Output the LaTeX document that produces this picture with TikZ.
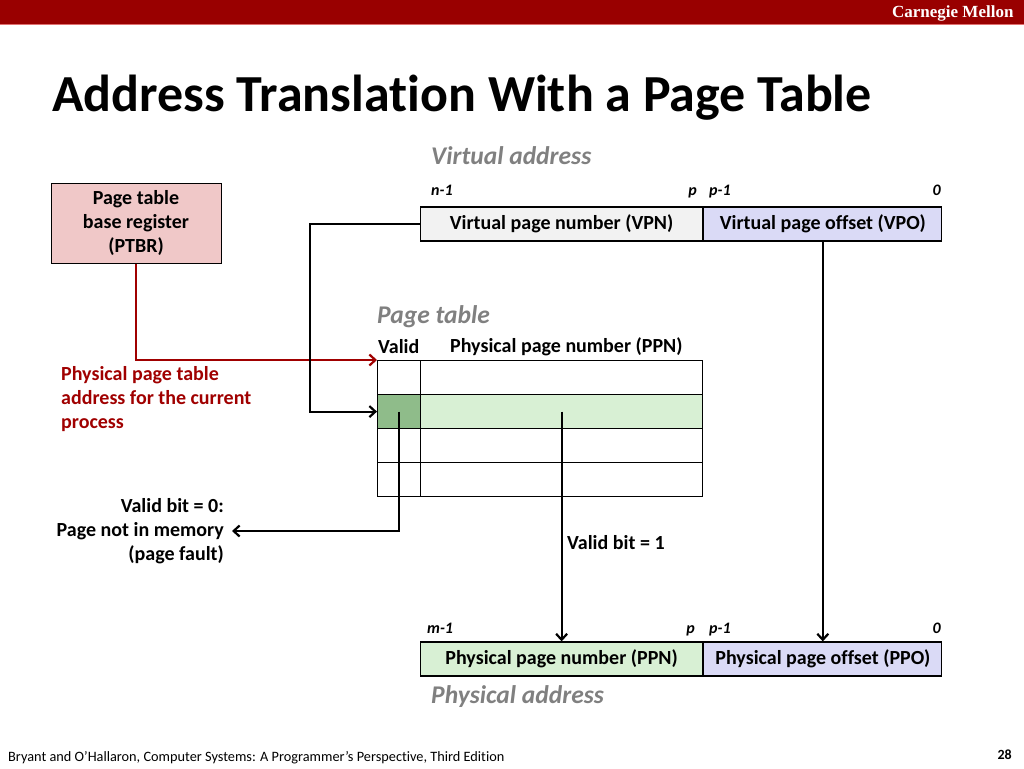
\documentclass[tikz,border=0pt]{standalone}
\usepackage{fontspec}
\setmainfont{Carlito}[Ligatures=NoCommon]
\newfontfamily\cmufont{Liberation Serif}
\usepackage{xcolor}
\usepackage{tikz}
\usetikzlibrary{arrows.meta,positioning}
\definecolor{HeaderRed}{HTML}{990000}
\definecolor{RuleRed}{HTML}{E07070}
\definecolor{PtbrPink}{HTML}{F0C8C8}
\definecolor{VpnGrey}{HTML}{F2F2F2}
\definecolor{OffsetBlue}{HTML}{DADAF6}
\definecolor{PpnGreen}{HTML}{D8F0D4}
\definecolor{ValidGreen}{HTML}{8FBC8A}
\definecolor{LabelGrey}{HTML}{808080}
\definecolor{NoteRed}{HTML}{A00000}

\begin{document}
\begin{tikzpicture}[
  x=1pt,y=-1pt,
  field/.style={draw,line width=1.2pt,minimum height=34pt,inner sep=0pt,
    font=\fontsize{20}{24}\selectfont\bfseries},
  cell/.style={draw,line width=1.2pt,minimum height=34pt,inner sep=0pt,anchor=north west},
  bitlabel/.style={font=\fontsize{16}{18}\selectfont\bfseries\itshape,inner sep=0pt},
  title/.style={font=\fontsize{25.5}{30}\selectfont\bfseries\itshape,text=LabelGrey,inner sep=0pt},
  note/.style={font=\fontsize{20}{24}\selectfont\bfseries,inner sep=0pt},
  link/.style={line width=2.2pt,-{Straight Barb[length=6pt,width=11pt,line width=2.2pt]}}
]
\useasboundingbox (0,0) rectangle (1024,768);

% slide frame
\fill[HeaderRed] (0,0) rectangle (1024,24);
\draw[RuleRed,line width=1pt] (0,25) -- (1024,25);
\node[anchor=east,text=white,font=\cmufont\fontsize{17}{20}\selectfont\bfseries] (brand) at (1017,13) {Carnegie Mellon};
\node[anchor=base west,inner sep=0pt,font=\fontsize{52}{58}\selectfont\bfseries] (head) at (52,111) {Address Translation With a Page Table};
\node[anchor=base west,inner sep=0pt,font=\fontsize{14.3}{16}\selectfont] (cite) at (8,761) {Bryant and O’Hallaron, Computer Systems: A Programmer’s Perspective, Third Edition};
\node[anchor=base east,inner sep=0pt,font=\fontsize{14}{16}\selectfont\bfseries] (pnum) at (1012,759) {28};

% base register
\node[draw,line width=1pt,fill=PtbrPink,minimum width=170pt,minimum height=80pt,align=center,
  font=\fontsize{20}{24}\selectfont\bfseries] (ptbr) at (136,223) {Page table\\base register\\(PTBR)};

% virtual address
\node[title,anchor=west] (vaname) at (431,156) {Virtual address};
\node[field,fill=VpnGrey,minimum width=282pt,anchor=west] (vpn) at (420,224) {Virtual page number (VPN)};
\node[field,fill=OffsetBlue,minimum width=238pt,right=0pt of vpn] (vpo) {Virtual page offset (VPO)};
\node[bitlabel,anchor=base west] (vn) at (431,195) {n-1};
\node[bitlabel,anchor=base east] (vp) at (697,195) {p};
\node[bitlabel,anchor=base west] (vpm) at (709,195) {p-1};
\node[bitlabel,anchor=base east] (vz) at (941,195) {0};

% page table
\node[title,anchor=west] (ptname) at (377,317) {Page table};
\node[note,anchor=west] (validhd) at (378,347) {Valid};
\node[note,anchor=west] (ppnhd) at (450,347) {Physical page number (PPN)};
\foreach \i/\vc/\pc in {1/white/white,2/ValidGreen/PpnGreen,3/white/white,4/white/white} {
  \node[cell,fill=\vc,minimum width=43pt] (v\i) at (377,{360+34*(\i-1)}) {};
  \node[cell,fill=\pc,minimum width=282pt] (e\i) at (420,{360+34*(\i-1)}) {};
}

% notes
\node[note,anchor=west,align=left,text=NoteRed] (ptnote) at (61,399) {Physical page table\\address for the current\\process};
\node[note,anchor=east,align=right,inner xsep=8pt] (fault) at (232,531) {Valid bit = 0:\\Page not in memory\\(page fault)};
\node[note,anchor=west] (hit) at (567,543) {Valid bit = 1};

% physical address
\node[field,fill=PpnGreen,minimum width=282pt,anchor=west] (ppn) at (420,659) {Physical page number (PPN)};
\node[field,fill=OffsetBlue,minimum width=238pt,right=0pt of ppn] (ppo) {Physical page offset (PPO)};
\node[bitlabel,anchor=base west] (pm) at (427,633) {m-1};
\node[bitlabel,anchor=base east] (pp) at (695,633) {p};
\node[bitlabel,anchor=base west] (ppm) at (709,633) {p-1};
\node[bitlabel,anchor=base east] (pz) at (941,633) {0};
\node[title,anchor=west] (paname) at (431,697) {Physical address};

% connectors
\draw[link,NoteRed] (ptbr.south) |- (v1.north west);
\draw[link] (vpn.west) -- ++(-110,0) |- (v2.west);
\draw[link] (v2.center) |- (fault.east);
\draw[link] (e2.center) -- (ppn.north);
\draw[link] (vpo.south) -- (ppo.north);
\end{tikzpicture}
\end{document}
